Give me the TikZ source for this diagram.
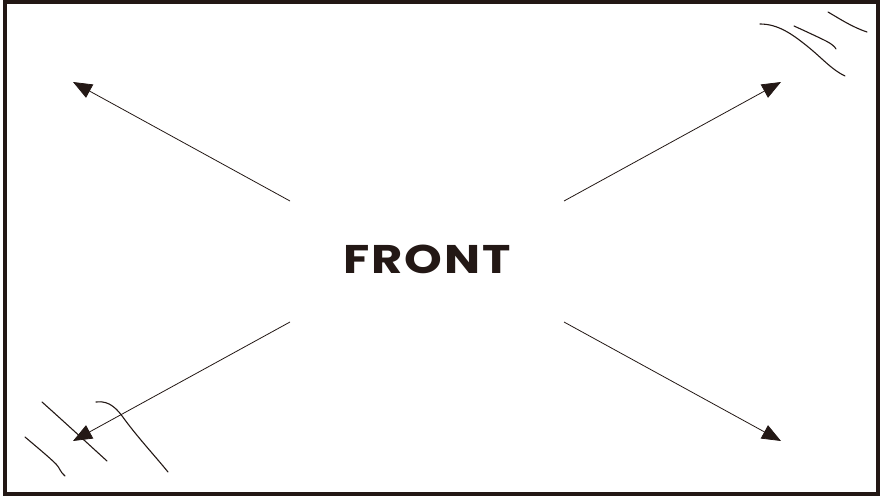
\documentclass[tikz,border=0pt]{standalone}
\usepackage{fontspec}
\newfontfamily\frontfont[FakeStretch=1.2,LetterSpace=5]{Poppins}
\usetikzlibrary{arrows.meta}
\definecolor{ink}{HTML}{231815}
\tikzset{
  frame/.style={draw=ink, line width=3.5pt},
  pointer/.style={draw=ink, line width=0.8pt, -{Triangle[length=19pt,width=15pt]}},
  scribble/.style={draw=ink, line width=1.1pt, line cap=round},
  label/.style={text=ink, font=\frontfont\bfseries\fontsize{40}{40}\selectfont, inner sep=0pt}
}
\begin{document}
\begin{tikzpicture}[x=1pt,y=-1pt]
\useasboundingbox (0,0) rectangle (880,497);
\draw[frame] (5,1.8) rectangle (878,494);
\node[label] (front) at (427,259) {FRONT};
% arrow starts and tips
\coordinate (s1) at (290,201); \coordinate (t1) at (73,82);
\coordinate (s2) at (564,201); \coordinate (t2) at (781,82);
\coordinate (s3) at (290,322); \coordinate (t3) at (73,441);
\coordinate (s4) at (564,322); \coordinate (t4) at (781,441);
\draw[pointer] (s1) -- (t1);
\draw[pointer] (s2) -- (t2);
\draw[pointer] (s3) -- (t3);
\draw[pointer] (s4) -- (t4);
% scribbles top right
\draw[scribble] (760,24) .. controls (778,24) and (792,34) .. (807,46) .. controls (822,58) and (832,70) .. (845,76);
\draw[scribble] (794,26) .. controls (805,31) and (818,37) .. (826,41) .. controls (832,44) and (835,47) .. (836,49);
\draw[scribble] (828,12) .. controls (840,19) and (852,27) .. (867,32);
% scribbles bottom left
\draw[scribble] (42,402) .. controls (60,418) and (85,441) .. (107,461);
\draw[scribble] (25,437) .. controls (38,448) and (50,458) .. (56,464) .. controls (60,468) and (60,472) .. (65,476);
\draw[scribble] (96,402) .. controls (110,400) and (118,410) .. (125,420) .. controls (140,440) and (155,456) .. (168,472);
\end{tikzpicture}
\end{document}
